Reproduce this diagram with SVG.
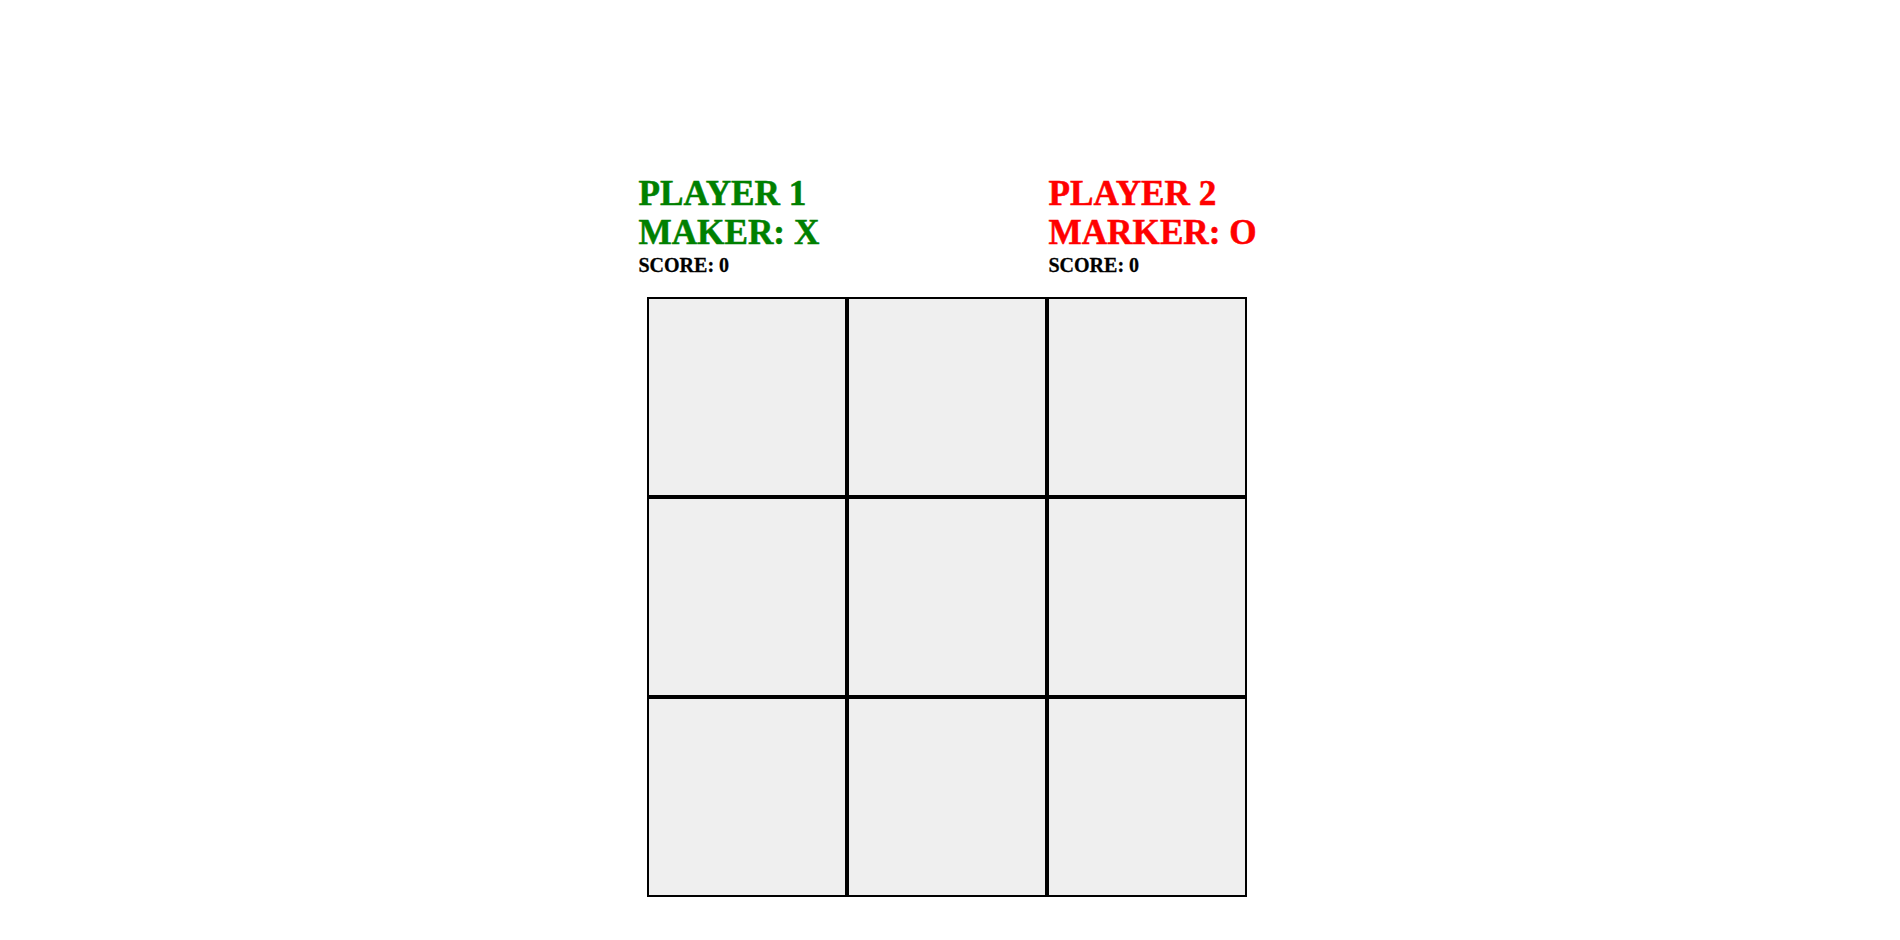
<svg xmlns="http://www.w3.org/2000/svg" width="1900" height="940" viewBox="0 0 1900 940">
<style>
.t{font-family:"Liberation Serif","Times New Roman",serif;font-weight:bold}
.big{font-size:35.2px;stroke-width:0.5px}
.small{font-size:20px;fill:#000;stroke:#000;stroke-width:0.3px}
.p1{fill:#008000;stroke:#008000}
.p2{fill:#ff0000;stroke:#ff0000}
.cell{fill:#efefef;stroke:#000;stroke-width:2}
</style>
<rect x="0" y="0" width="1900" height="940" fill="#fff"/>
<g id="player1">
<text class="t big p1" x="638.5" y="205">PLAYER 1</text>
<text class="t big p1" x="638.5" y="243.5">MAKER: X</text>
<text class="t small" x="638.5" y="272">SCORE: 0</text>
</g>
<g id="player2">
<text class="t big p2" x="1048.5" y="205">PLAYER 2</text>
<text class="t big p2" x="1048.5" y="243.5">MARKER: O</text>
<text class="t small" x="1048.5" y="272">SCORE: 0</text>
</g>
<g id="board">
<rect id="c00" class="cell" x="648" y="298" width="198" height="198"/>
<rect id="c01" class="cell" x="848" y="298" width="198" height="198"/>
<rect id="c02" class="cell" x="1048" y="298" width="198" height="198"/>
<rect id="c10" class="cell" x="648" y="498" width="198" height="198"/>
<rect id="c11" class="cell" x="848" y="498" width="198" height="198"/>
<rect id="c12" class="cell" x="1048" y="498" width="198" height="198"/>
<rect id="c20" class="cell" x="648" y="698" width="198" height="198"/>
<rect id="c21" class="cell" x="848" y="698" width="198" height="198"/>
<rect id="c22" class="cell" x="1048" y="698" width="198" height="198"/>
</g>
<g id="connectors"/>
</svg>
